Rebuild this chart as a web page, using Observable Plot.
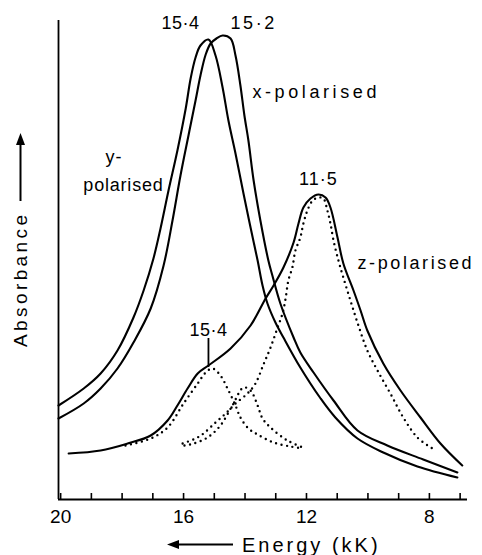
<!DOCTYPE html>
<html><head><meta charset="utf-8">
<script src="https://cdn.jsdelivr.net/npm/d3@7"></script>
<script src="https://cdn.jsdelivr.net/npm/@observablehq/plot@0.6"></script>
<style>html,body{margin:0;padding:0;background:#fff}svg{display:block}</style>
</head><body><div id="chart"></div>
<script>
// Energy axis (kK), drawn high → low from left to right
const xDomain = [20.07, 6.76];
const yDomain = [0, 4.79];
const energyTicks = [20, 16, 12, 8];
const minorTicks = [20, 19, 18, 17, 16, 15, 14, 13, 12, 11, 10, 9, 8, 7];

// y-polarised (peak 15·4)
const yPolE = [20.07,19.25,18.70,18.15,17.63,17.30,16.98,16.75,16.49,16.20,15.93,15.77,15.61,15.45,15.19,14.96,14.73,14.54,14.31,14.05,13.82,13.59,13.43,13.27,13.01,12.75,12.20,11.54,11.06,10.34,9.50,8.39,7.09];
const yPolA = [0.94,1.11,1.26,1.49,1.82,2.09,2.41,2.71,3.09,3.49,3.91,4.21,4.42,4.54,4.60,4.44,4.12,3.79,3.46,3.06,2.72,2.39,2.14,1.96,1.77,1.62,1.32,1.01,0.82,0.61,0.47,0.33,0.22];

// x-polarised (peak 15·2)
const xPolE = [20.07,19.25,18.70,18.15,17.63,17.07,16.65,16.36,16.10,15.84,15.61,15.45,15.28,15.12,14.93,14.73,14.47,14.31,14.15,14.02,13.89,13.72,13.50,13.24,13.11,12.85,12.42,12.20,11.77,11.12,10.34,9.37,8.20,7.09];
const xPolA = [0.81,0.96,1.11,1.31,1.57,1.91,2.34,2.79,3.24,3.64,3.99,4.24,4.45,4.56,4.61,4.64,4.61,4.44,4.14,3.84,3.59,3.19,2.79,2.39,2.24,1.96,1.62,1.47,1.27,0.99,0.69,0.54,0.40,0.27];

// z-polarised (peak 11·5, shoulder 15·4)
const zPolE = [19.74,18.70,17.82,17.07,16.52,16.20,15.87,15.54,15.19,14.47,13.82,13.33,13.07,12.75,12.42,12.26,12.10,11.87,11.61,11.38,11.22,10.99,10.80,10.47,10.24,10.02,9.50,8.94,8.29,7.64,6.93];
const zPolA = [0.46,0.49,0.56,0.64,0.79,0.94,1.11,1.26,1.34,1.51,1.74,2.01,2.14,2.32,2.57,2.76,2.92,3.01,3.05,3.02,2.92,2.62,2.36,2.09,1.89,1.69,1.36,1.09,0.82,0.56,0.34];

// Resolved bands of the z spectrum (dotted)
const band154E = [17.89,17.07,16.52,16.00,15.54,15.28,15.06,14.80,14.57,14.31,14.15,13.89,13.59,13.07,12.52,12.10];
const band154A = [0.54,0.61,0.72,0.96,1.16,1.27,1.31,1.24,1.11,0.94,0.82,0.71,0.65,0.57,0.53,0.51];
const band14E = [15.97,15.67,15.22,14.80,14.41,14.05,13.82,13.59,13.43,13.17,12.62,12.03];
const band14A = [0.54,0.56,0.62,0.74,0.94,1.12,1.09,0.94,0.81,0.72,0.59,0.51];
const band115E = [16.03,15.61,15.35,14.96,14.63,14.31,13.92,13.66,13.40,13.17,12.94,12.78,12.68,12.59,12.46,12.36,12.20,12.10,11.97,11.80,11.61,11.45,11.32,11.22,11.12,10.96,10.80,10.57,10.31,10.02,9.69,9.27,8.85,8.39,7.90];
const band115A = [0.56,0.61,0.66,0.77,0.86,0.96,1.06,1.16,1.35,1.52,1.72,1.86,2.01,2.19,2.32,2.49,2.62,2.76,2.89,2.99,3.02,3.01,2.89,2.76,2.59,2.39,2.22,1.99,1.74,1.49,1.29,1.06,0.82,0.62,0.51];

// Annotations
const centerLabelText = ["15·4", "15·2", "11·5", "15·4"];
const centerLabelE = [16.10, 13.72, 11.61, 15.19];
const centerLabelA = [4.76, 4.76, 3.20, 1.69];
const startLabelText = ["x-polarised", "y-", "z-polarised"];
const startLabelE = [13.76, 18.54, 10.34];
const startLabelA = [4.07, 3.42, 2.36];
const endLabelText = ["polarised"];
const endLabelE = [16.65];
const endLabelA = [3.14];
const pointerE = [15.19];
const pointerA1 = [1.32];
const pointerA2 = [1.61];

const xTitle = "Energy (kK)";
const yTitle = "Absorbance";

const rows = (E, A) => E.map((e, i) => ({E: e, A: A[i]}));
const lbl = (T, E, A) => T.map((t, i) => ({t, E: E[i], A: A[i]}));

const solid = {x: "E", y: "A", curve: "catmull-rom", stroke: "#000", strokeWidth: 2.1};
const dotted = {x: "E", y: "A", curve: "catmull-rom", stroke: "#000", strokeWidth: 2.4,
  strokeDasharray: "0 5.6", strokeLinecap: "round"};

const font = "Liberation Sans, Arial, sans-serif";

const plot = Plot.plot({
  width: 482, height: 555,
  marginLeft: 58, marginRight: 15, marginTop: 20, marginBottom: 56,
  x: {domain: xDomain, axis: null, label: null},
  y: {domain: yDomain, axis: null, label: null},
  style: {fontFamily: font, fontSize: "18px", color: "#000", background: "#fff", overflow: "visible"},
  marks: [
    Plot.ruleX([xDomain[0]], {stroke: "#000", strokeWidth: 1.8}),
    Plot.ruleY([yDomain[0]], {stroke: "#000", strokeWidth: 1.8}),
    Plot.axisX({ticks: minorTicks, tickSize: -6, tickFormat: () => "", label: null, strokeWidth: 1.6}),
    Plot.axisX({ticks: energyTicks, tickSize: 0, tickPadding: 10, label: null, fontSize: 19}),
    Plot.line(rows(yPolE, yPolA), solid),
    Plot.line(rows(xPolE, xPolA), solid),
    Plot.line(rows(zPolE, zPolA), solid),
    Plot.line(rows(band154E, band154A), dotted),
    Plot.line(rows(band14E, band14A), dotted),
    Plot.line(rows(band115E, band115A), dotted),
    Plot.ruleX(pointerE.map((e, i) => ({E: e, A1: pointerA1[i], A2: pointerA2[i]})),
      {x: "E", y1: "A1", y2: "A2", stroke: "#000", strokeWidth: 1.8}),
    Plot.text(lbl(centerLabelText, centerLabelE, centerLabelA), {x: "E", y: "A", text: "t", textAnchor: "middle", fontSize: 18}),
    Plot.text(lbl(startLabelText, startLabelE, startLabelA), {x: "E", y: "A", text: "t", textAnchor: "start", fontSize: 18}),
    Plot.text(lbl(endLabelText, endLabelE, endLabelA), {x: "E", y: "A", text: "t", textAnchor: "end", fontSize: 18})
  ]
});

// letter spacing to mimic the widely spaced lettering
const spacing = {"x-polarised": 3.6, "z-polarised": 2.6, "polarised": 0.8, "y-": 1, "15·2": 2.5, "15·4": 0.5, "11·5": 1};
d3.select(plot).selectAll("text").each(function () {
  const s = spacing[this.textContent];
  if (s != null) d3.select(this).attr("letter-spacing", s);
});

const svg = d3.select(plot);
// y title with arrow
svg.append("text")
  .attr("transform", "translate(27,347) rotate(-90)")
  .attr("text-anchor", "start")
  .attr("font-family", font).attr("font-size", 19).attr("letter-spacing", 3.4)
  .text(yTitle);
svg.append("line").attr("x1", 20.5).attr("x2", 20.5).attr("y1", 201).attr("y2", 142)
  .attr("stroke", "#000").attr("stroke-width", 2);
svg.append("path").attr("d", "M20.5,133 L16,145 L25,145 Z").attr("fill", "#000");
// x title with arrow
svg.append("text")
  .attr("x", 242).attr("y", 552)
  .attr("text-anchor", "start")
  .attr("font-family", font).attr("font-size", 20).attr("letter-spacing", 3)
  .text(xTitle);
svg.append("line").attr("x1", 176).attr("x2", 233).attr("y1", 544.5).attr("y2", 544.5)
  .attr("stroke", "#000").attr("stroke-width", 2);
svg.append("path").attr("d", "M167,544.5 L179,540 L179,549 Z").attr("fill", "#000");

document.getElementById("chart").appendChild(plot);
</script>
</body></html>
